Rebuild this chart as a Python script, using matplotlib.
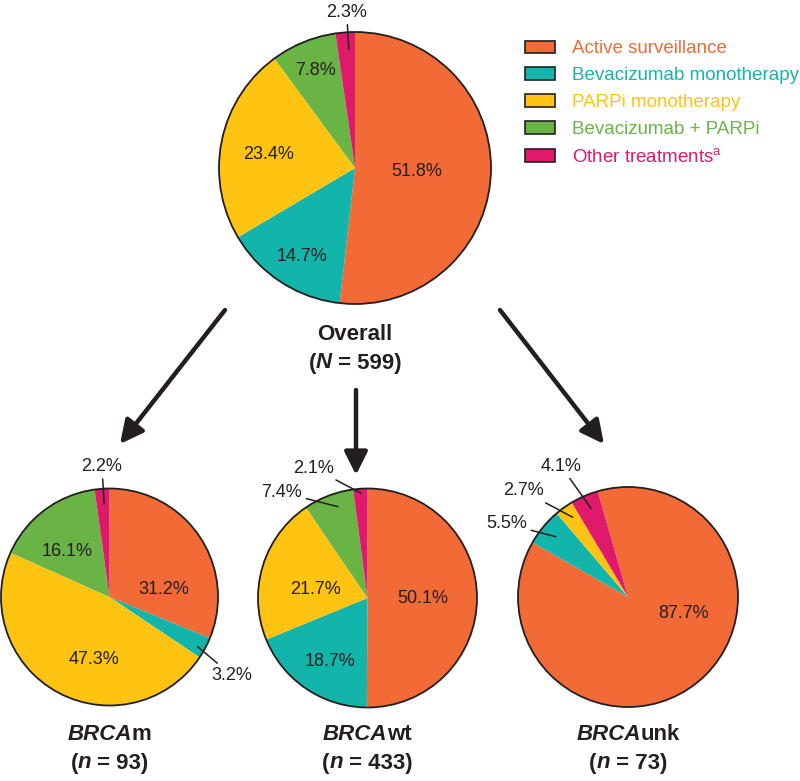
import matplotlib
matplotlib.use('Agg')
import matplotlib.pyplot as plt
from matplotlib.patches import Circle, Patch

plt.rcParams['font.family'] = ['Liberation Sans', 'DejaVu Sans']
plt.rcParams['mathtext.default'] = 'regular'

# data (% of patients)
categories = ["Active surveillance", "Bevacizumab monotherapy", "PARPi monotherapy",
              "Bevacizumab + PARPi", "Other treatments$^{a}$"]
overall = [51.8, 14.7, 23.4, 7.8, 2.3]
brca_m = [31.2, 3.2, 47.3, 16.1, 2.2]
brca_wt = [50.1, 18.7, 21.7, 7.4, 2.1]
brca_unk = [87.7, 5.5, 2.7, 0.0, 4.1]
group_names = [("Overall", ""), ("BRCA", "m"), ("BRCA", "wt"), ("BRCA", "unk")]
group_n = [("N", 599), ("n", 93), ("n", 433), ("n", 73)]

colors = ["#F26A36", "#13B5AA", "#FFC412", "#69B445", "#DF1A6B"]
ink = "#231F20"

W, H = 800, 781
fig = plt.figure(figsize=(W / 100, H / 100), dpi=100)
ax = fig.add_axes([0, 0, 1, 1])


def py(y):
    # pixel row (from top) -> data y
    return H - y


# layout: center (px), radius, start angle, label offsets in radius units
# each label: (dx, dy, leader inner dx, leader inner dy) or None
pies = [
    dict(vals=overall, c=(355, 168), r=136, start=90, title_y=335,
         labels=[(0.454, -0.027, None, None), (-0.392, -0.652, None, None),
                 (-0.637, 0.096, None, None), (-0.294, 0.72, None, None),
                 (-0.061, 1.147, -0.046, 0.875)]),
    dict(vals=brca_m, c=(109.5, 597), r=108.5, start=90, title_y=735,
         labels=[(0.498, 0.068, None, None), (1.128, -0.722, 0.812, -0.458),
                 (-0.147, -0.577, None, None), (-0.393, 0.417, None, None),
                 (-0.07, 1.205, -0.049, 0.857)]),
    dict(vals=brca_wt, c=(367.5, 598), r=109.5, start=90, title_y=735,
         labels=[(0.506, -0.009, None, None), (-0.341, -0.582, None, None),
                 (-0.478, 0.082, None, None), (-0.782, 0.964, -0.27, 0.834),
                 (-0.493, 1.187, -0.058, 0.956)]),
    dict(vals=brca_unk, c=(628, 597), r=110, start=106, title_y=735,
         labels=[(0.509, -0.148, None, None), (-1.103, 0.664, -0.655, 0.548),
                 (-0.952, 0.964, -0.503, 0.725), None,
                 (-0.609, 1.19, -0.336, 0.806)]),
]

for p in pies:
    cx, cy = p["c"][0], py(p["c"][1])
    r = p["r"]
    ax.pie(p["vals"], colors=colors, startangle=p["start"], counterclock=False,
           center=(cx, cy), radius=r, wedgeprops=dict(linewidth=0))
    ax.add_patch(Circle((cx, cy), r, fill=False, edgecolor=ink, lw=1.3, zorder=5))
    for v, lab in zip(p["vals"], p["labels"]):
        if lab is None:
            continue
        dx, dy, lx, ly = lab
        txt = f"{v:.1f}%"
        if lx is None:
            ax.text(cx + dx * r, cy + dy * r, txt, ha="center", va="center",
                    fontsize=13, color=ink, zorder=6)
        else:
            ax.annotate(txt, xy=(cx + lx * r, cy + ly * r),
                        xytext=(cx + dx * r, cy + dy * r), ha="center", va="center",
                        fontsize=13, color=ink, zorder=6,
                        arrowprops=dict(arrowstyle="-", color=ink, lw=1.1,
                                        shrinkA=1, shrinkB=0))

ax.set_xlim(0, W)
ax.set_ylim(0, H)
ax.set_aspect("equal")
ax.axis("off")

renderer = fig.canvas.get_renderer()


def rich_text(x, y, parts, size=16):
    # parts: list of (string, italic?) drawn side by side, centered at x
    objs = []
    for s, it in parts:
        t = ax.text(0, y, s, fontsize=size, fontweight="bold",
                    fontstyle="italic" if it else "normal",
                    color=ink, ha="left", va="center")
        objs.append(t)
    widths = [t.get_window_extent(renderer).width for t in objs]
    x0 = x - sum(widths) / 2
    for t, w in zip(objs, widths):
        t.set_x(x0)
        x0 += w


for p, (nm, suffix), (nsym, n) in zip(pies, group_names, group_n):
    cx = p["c"][0]
    ty = p["title_y"]
    if suffix:
        rich_text(cx, py(ty), [(nm, True), (suffix, False)])
    else:
        rich_text(cx, py(ty), [(nm, False)])
    rich_text(cx, py(ty + 28), [("(", False), (nsym, True), (f" = {n})", False)])

# arrows from overall pie to subgroups
arrows = [((225, 310), (120, 444)), ((356, 390), (356, 475)), ((500, 310), (604, 444))]
for (x0, y0), (x1, y1) in arrows:
    ax.annotate("", xy=(x1, py(y1)), xytext=(x0, py(y0)),
                arrowprops=dict(arrowstyle="-|>,head_length=0.7,head_width=0.35",
                                color=ink, lw=3.2, mutation_scale=20,
                                shrinkA=0, shrinkB=0))

handles = [Patch(facecolor=c, edgecolor=ink, lw=1.2) for c in colors]
leg = ax.legend(handles, categories, loc="upper left", bbox_to_anchor=(516 / W, 1 - 31 / H),
                frameon=False, fontsize=13.5, handlelength=1.6, handleheight=0.65,
                handletextpad=0.9, labelspacing=0.53, borderpad=0)
for t, c in zip(leg.get_texts(), colors):
    t.set_color(c)

fig.savefig("out.png", dpi=100)
